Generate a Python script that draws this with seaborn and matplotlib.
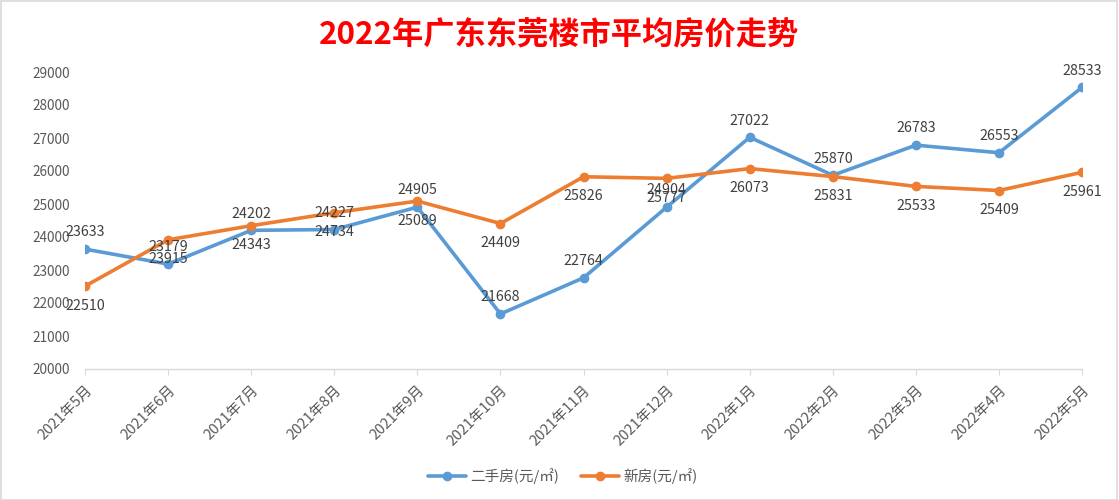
import matplotlib
matplotlib.use("Agg")
import matplotlib.pyplot as plt
import seaborn as sns
import pandas as pd
import numpy as np
from matplotlib.lines import Line2D

months = ["2021年5月", "2021年6月", "2021年7月", "2021年8月", "2021年9月", "2021年10月",
          "2021年11月", "2021年12月", "2022年1月", "2022年2月", "2022年3月", "2022年4月", "2022年5月"]
second_hand = [23633, 23179, 24202, 24227, 24905, 21668, 22764, 24904, 27022, 25870, 26783, 26553, 28533]
new_house = [22510, 23915, 24343, 24734, 25089, 24409, 25826, 25777, 26073, 25831, 25533, 25409, 25961]
series_names = ["二手房(元/㎡)", "新房(元/㎡)"]
colors = ["#5B9BD5", "#ED7D31"]
y_ticks = list(range(20000, 29001, 1000))

sns.set_theme(style="white")
plt.rcParams['font.family'] = ['Noto Sans CJK SC', 'DejaVu Sans']

df = pd.DataFrame({
    "x": list(range(len(months))) * 2,
    "value": second_hand + new_house,
    "series": [series_names[0]] * len(months) + [series_names[1]] * len(months),
})

fig = plt.figure(figsize=(11.19, 5.0), dpi=100)
ax = fig.add_axes([0.076, 0.262, 0.891, 0.594])

sns.lineplot(data=df, x="x", y="value", hue="series", palette=colors, ax=ax,
             marker="o", markersize=7, markeredgewidth=0, linewidth=2.6, legend=False)

ax.set_xlim(0, len(months) - 1)
ax.set_ylim(20000, 29000)
ax.set_yticks(y_ticks)
ax.set_yticklabels([str(v) for v in y_ticks], fontsize=9.8, color="#595959")
ax.set_xticks(range(len(months)))
ax.set_xticklabels(months, rotation=45, ha="right", rotation_mode="anchor", fontsize=10.5, color="#595959")
ax.tick_params(axis="y", length=0, pad=11)
ax.tick_params(axis="x", length=4, width=0.8, color="#D9D9D9", pad=6, direction="out", bottom=True)
for s in ["left", "right", "top"]:
    ax.spines[s].set_visible(False)
ax.spines["bottom"].set_color("#D9D9D9")
ax.spines["bottom"].set_linewidth(1)
ax.set_xlabel("")
ax.set_ylabel("")
ax.grid(False)

for i, v in enumerate(second_hand):
    ax.annotate(str(v), (i, v), xytext=(0, 7), textcoords="offset points",
                ha="center", va="bottom", fontsize=10.3, color="#404040")
for i, v in enumerate(new_house):
    ax.annotate(str(v), (i, v), xytext=(0, -9), textcoords="offset points",
                ha="center", va="top", fontsize=10.3, color="#404040")

fig.text(0.5, 0.93, "2022年广东东莞楼市平均房价走势", ha="center", va="center",
         fontsize=22.5, fontweight="bold", color="#FF0000")

handles = [Line2D([0], [0], color=c, lw=2.6, marker="o", markersize=7, markeredgewidth=0) for c in colors]
leg = fig.legend(handles, series_names, loc="center", bbox_to_anchor=(0.503, 0.048), ncol=2,
                 frameon=False, fontsize=10.5, handlelength=2.6, columnspacing=1.5, handletextpad=0.3)
for t in leg.get_texts():
    t.set_color("#595959")

border = plt.Rectangle((0.001, 0.001), 0.997, 0.997, transform=fig.transFigure, fill=False,
                       edgecolor="#D9D9D9", linewidth=1.2)
fig.patches.append(border)

fig.savefig("out.png", dpi=100)
